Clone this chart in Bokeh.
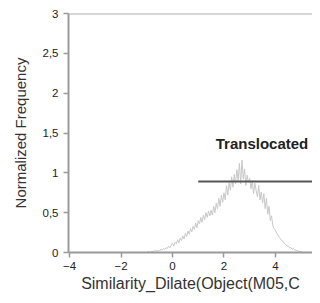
import numpy as np
from bokeh.plotting import figure
from bokeh.models import FixedTicker, Range1d, Span
from bokeh.core.properties import value
from bokeh.embed import file_html
from bokeh.resources import INLINE

# Histogram bins (start, width) and normalized frequencies
bin_start = -1.0
bin_step = 0.05
freq = [
    0.00, 0.01, 0.01, 0.00, 0.02, 0.01, 0.02, 0.03, 0.01, 0.03,
    0.02, 0.04, 0.03, 0.05, 0.04, 0.06, 0.05, 0.08, 0.06, 0.09,
    0.12, 0.08, 0.13, 0.11, 0.16, 0.12, 0.18, 0.15, 0.21, 0.17,
    0.24, 0.20, 0.27, 0.23, 0.30, 0.26, 0.33, 0.29, 0.37, 0.31,
    0.40, 0.36, 0.44, 0.38, 0.47, 0.41, 0.50, 0.44, 0.52, 0.46,
    0.53, 0.47, 0.58, 0.50, 0.62, 0.55, 0.68, 0.58, 0.72, 0.63,
    0.75, 0.66, 0.84, 0.72, 0.88, 0.78, 0.95, 0.82, 0.98, 0.86,
    1.04, 0.90, 1.12, 0.86, 1.16, 0.92, 1.05, 0.84, 0.97, 0.88,
    0.93, 0.80, 0.90, 0.74, 0.87, 0.78, 0.70, 0.84, 0.66, 0.76,
    0.62, 0.74, 0.55, 0.68, 0.48, 0.58, 0.40, 0.46, 0.33, 0.30,
    0.28, 0.24, 0.22, 0.19, 0.17, 0.15, 0.14, 0.11, 0.10, 0.08,
    0.08, 0.06, 0.06, 0.04, 0.05, 0.03, 0.03, 0.02, 0.02, 0.01,
    0.01, 0.00, 0.00,
]
x_vals = bin_start + bin_step * np.arange(len(freq))

# Gate
gate_label = "Translocated"
gate_x0 = 1.0
gate_x1 = 7.0
gate_y = 0.89
label_x = 1.68
label_y = 1.37

x_title = "Similarity_Dilate(Object(M05,C"
y_title = "Normalized Frequency"
x_ticks = [-4, -2, 0, 2, 4, 6]
y_ticks = [0, 0.5, 1, 1.5, 2, 2.5, 3]
y_tick_labels = ["0", "0,5", "1", "1,5", "2", "2,5", "3"]
y_max = 3

FONT = "Liberation Sans"

p = figure(width=312, height=295, output_backend="svg", toolbar_location=None,
           x_range=Range1d(-4.04, 5.44), y_range=Range1d(0, y_max),
           min_border_left=68, min_border_right=0, min_border_top=13, min_border_bottom=43)
p.outline_line_color = None
p.grid.visible = False
p.background_fill_color = "white"

p.add_layout(Span(location=y_max, dimension="width", line_color="#b0b0b0", line_width=2))
p.line(x_vals, freq, line_color="#c8c8c8", line_width=1)
p.segment(x0=[gate_x0], y0=[gate_y], x1=[gate_x1], y1=[gate_y], line_color="#555555", line_width=2)
p.text(x=[label_x], y=[label_y], text=[gate_label], text_font_size="15px", text_font_style="bold",
       text_baseline="middle", text_align="left", text_color="#222222", text_font=value(FONT))

for ax in (p.xaxis[0], p.yaxis[0]):
    ax.axis_line_color = "#9a9a9a"
    ax.axis_line_width = 2
    ax.major_tick_line_color = "#9a9a9a"
    ax.major_tick_line_width = 1.5
    ax.major_tick_out = 5
    ax.major_tick_in = 0
    ax.minor_tick_line_color = None
    ax.major_label_text_font = FONT
    ax.major_label_text_font_size = "11.5px"
    ax.major_label_text_color = "#222222"
    ax.axis_label_text_font = FONT
    ax.axis_label_text_font_style = "normal"
    ax.axis_label_text_color = "#333333"

p.xaxis.axis_label_text_font_size = "16px"
p.yaxis.axis_label_text_font_size = "15px"
p.xaxis.ticker = FixedTicker(ticks=x_ticks)
p.yaxis.ticker = FixedTicker(ticks=y_ticks)
p.yaxis.major_label_overrides = {t: l for t, l in zip(y_ticks, y_tick_labels)}
p.xaxis.axis_label = x_title
p.yaxis.axis_label = y_title
p.xaxis.major_label_standoff = 4
p.yaxis.major_label_standoff = 5
p.xaxis.axis_label_standoff = 2
p.yaxis.axis_label_standoff = 11

open("out.html", "w").write(file_html(p, INLINE))
